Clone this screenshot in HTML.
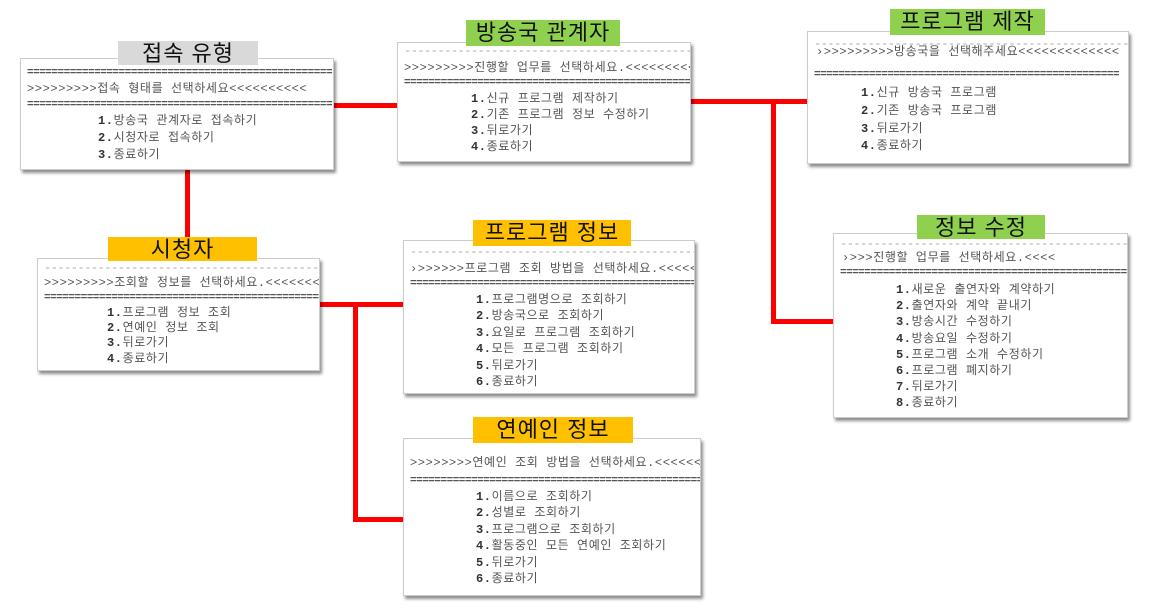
<!DOCTYPE html>
<html><head><meta charset="utf-8"><style>
body{margin:0;width:1153px;height:610px;background:#fff;position:relative;overflow:hidden;font-family:"Liberation Mono","Noto Sans CJK KR",monospace;}
.box{position:absolute;background:#fff;border:1px solid #ccc;box-shadow:2px 3px 3px rgba(0,0,0,0.45);overflow:hidden;}
.l{position:absolute;left:6px;white-space:nowrap;font-size:12px;line-height:16px;height:16px;color:#555;letter-spacing:0.6px}
.l.s{color:#aaa;letter-spacing:-0.5px}
.l.e{color:#555;letter-spacing:-0.5px;font-weight:bold;font-size:11px}
.ttl{position:absolute;font-family:"Liberation Sans","Noto Sans CJK KR",sans-serif;font-size:22px;text-align:center;line-height:26px;color:#111;letter-spacing:1px;}
.r{position:absolute;background:#f00;}
b{font-weight:bold;color:#333}
</style></head><body>
<div class="r" style="left:332px;top:103px;width:66px;height:5px"></div>
<div class="r" style="left:689px;top:99px;width:119px;height:5px"></div>
<div class="r" style="left:771px;top:99px;width:5px;height:225px"></div>
<div class="r" style="left:771px;top:319px;width:63px;height:5px"></div>
<div class="r" style="left:185px;top:168px;width:5px;height:70px"></div>
<div class="r" style="left:318px;top:302px;width:86px;height:5px"></div>
<div class="r" style="left:353px;top:302px;width:5px;height:220px"></div>
<div class="r" style="left:353px;top:517px;width:51px;height:5px"></div>

<div class="box" style="left:20px;top:58px;width:312px;height:110px">
<div class="l e" style="top:6px">==================================================</div>
<div class="l" style="top:22px">&gt;&gt;&gt;&gt;&gt;&gt;&gt;&gt;&gt;접속 형태를 선택하세요&lt;&lt;&lt;&lt;&lt;&lt;&lt;&lt;&lt;&lt;</div>
<div class="l e" style="top:38px">==================================================</div>
<div class="l" style="top:54px;left:77px"><b>1.</b>방송국 관계자로 접속하기</div>
<div class="l" style="top:71px;left:77px"><b>2.</b>시청자로 접속하기</div>
<div class="l" style="top:88px;left:77px"><b>3.</b>종료하기</div>
</div>
<div class="ttl" style="left:118px;top:41px;width:140px;height:24px;background:#d9d9d9">접속 유형</div>

<div class="box" style="left:397px;top:42px;width:292px;height:118px">
<div class="l s" style="top:0px">--------------------------------------------------</div>
<div class="l" style="top:17px">&gt;&gt;&gt;&gt;&gt;&gt;&gt;&gt;&gt;진행할 업무를 선택하세요.&lt;&lt;&lt;&lt;&lt;&lt;&lt;&lt;&lt;&lt;</div>
<div class="l e" style="top:32px">==================================================</div>
<div class="l" style="top:48px;left:73px"><b>1.</b>신규 프로그램 제작하기</div>
<div class="l" style="top:64px;left:73px"><b>2.</b>기존 프로그램 정보 수정하기</div>
<div class="l" style="top:80px;left:73px"><b>3.</b>뒤로가기</div>
<div class="l" style="top:96px;left:73px"><b>4.</b>종료하기</div>
</div>
<div class="ttl" style="left:466px;top:20px;width:154px;height:26px;background:#8fd14f">방송국 관계자</div>

<div class="box" style="left:807px;top:31px;width:320px;height:131px">
<div class="l s" style="top:4px">--------------------------------------------------</div>
<div class="l" style="top:12px;left:8px">›&gt;&gt;&gt;&gt;&gt;&gt;&gt;&gt;&gt;방송국을 선택해주세요&lt;&lt;&lt;&lt;&lt;&lt;&lt;&lt;&lt;&lt;&lt;&lt;&lt;</div>
<div class="l e" style="top:35px">==================================================</div>
<div class="l" style="top:53px;left:53px"><b>1.</b>신규 방송국 프로그램</div>
<div class="l" style="top:71px;left:53px"><b>2.</b>기존 방송국 프로그램</div>
<div class="l" style="top:89px;left:53px"><b>3.</b>뒤로가기</div>
<div class="l" style="top:106px;left:53px"><b>4.</b>종료하기</div>
</div>
<div class="ttl" style="left:890px;top:9px;width:155px;height:26px;background:#8fd14f">프로그램 제작</div>

<div class="box" style="left:833px;top:233px;width:293px;height:183px">
<div class="l s" style="top:2px">--------------------------------------------------</div>
<div class="l" style="top:16px;left:8px">›&gt;&gt;&gt;진행할 업무를 선택하세요.&lt;&lt;&lt;&lt;</div>
<div class="l e" style="top:31px">==================================================</div>
<div class="l" style="top:48px;left:62px"><b>1.</b>새로운 출연자와 계약하기</div>
<div class="l" style="top:64px;left:62px"><b>2.</b>출연자와 계약 끝내기</div>
<div class="l" style="top:80px;left:62px"><b>3.</b>방송시간 수정하기</div>
<div class="l" style="top:97px;left:62px"><b>4.</b>방송요일 수정하기</div>
<div class="l" style="top:113px;left:62px"><b>5.</b>프로그램 소개 수정하기</div>
<div class="l" style="top:129px;left:62px"><b>6.</b>프로그램 폐지하기</div>
<div class="l" style="top:145px;left:62px"><b>7.</b>뒤로가기</div>
<div class="l" style="top:161px;left:62px"><b>8.</b>종료하기</div>
</div>
<div class="ttl" style="left:917px;top:215px;width:128px;height:24px;background:#8fd14f">정보 수정</div>

<div class="box" style="left:37px;top:258px;width:281px;height:111px">
<div class="l s" style="top:1px">--------------------------------------------------</div>
<div class="l" style="top:16px">&gt;&gt;&gt;&gt;&gt;&gt;&gt;&gt;&gt;조회할 정보를 선택하세요.&lt;&lt;&lt;&lt;&lt;&lt;&lt;&lt;&lt;&lt;</div>
<div class="l e" style="top:31px">==================================================</div>
<div class="l" style="top:46px;left:69px"><b>1.</b>프로그램 정보 조회</div>
<div class="l" style="top:61px;left:69px"><b>2.</b>연예인 정보 조회</div>
<div class="l" style="top:76px;left:69px"><b>3.</b>뒤로가기</div>
<div class="l" style="top:92px;left:69px"><b>4.</b>종료하기</div>
</div>
<div class="ttl" style="left:108px;top:237px;width:149px;height:24px;background:#ffc000">시청자</div>

<div class="box" style="left:403px;top:240px;width:290px;height:152px">
<div class="l s" style="top:3px">--------------------------------------------------</div>
<div class="l" style="top:20px">›&gt;&gt;&gt;&gt;&gt;&gt;프로그램 조회 방법을 선택하세요.&lt;&lt;&lt;&lt;&lt;&lt;</div>
<div class="l e" style="top:35px">==================================================</div>
<div class="l" style="top:51px;left:72px"><b>1.</b>프로그램명으로 조회하기</div>
<div class="l" style="top:67px;left:72px"><b>2.</b>방송국으로 조회하기</div>
<div class="l" style="top:84px;left:72px"><b>3.</b>요일로 프로그램 조회하기</div>
<div class="l" style="top:100px;left:72px"><b>4.</b>모든 프로그램 조회하기</div>
<div class="l" style="top:117px;left:72px"><b>5.</b>뒤로가기</div>
<div class="l" style="top:133px;left:72px"><b>6.</b>종료하기</div>
</div>
<div class="ttl" style="left:473px;top:220px;width:158px;height:26px;background:#ffc000">프로그램 정보</div>

<div class="box" style="left:403px;top:438px;width:296px;height:156px">
<div class="l" style="top:16px">&gt;&gt;&gt;&gt;&gt;&gt;&gt;&gt;연예인 조회 방법을 선택하세요.&lt;&lt;&lt;&lt;&lt;&lt;‹</div>
<div class="l e" style="top:34px">==================================================</div>
<div class="l" style="top:50px;left:72px"><b>1.</b>이름으로 조회하기</div>
<div class="l" style="top:66px;left:72px"><b>2.</b>성별로 조회하기</div>
<div class="l" style="top:83px;left:72px"><b>3.</b>프로그램으로 조회하기</div>
<div class="l" style="top:99px;left:72px"><b>4.</b>활동중인 모든 연예인 조회하기</div>
<div class="l" style="top:116px;left:72px"><b>5.</b>뒤로가기</div>
<div class="l" style="top:132px;left:72px"><b>6.</b>종료하기</div>
</div>
<div class="ttl" style="left:473px;top:417px;width:160px;height:26px;background:#ffc000">연예인 정보</div>
</body></html>
